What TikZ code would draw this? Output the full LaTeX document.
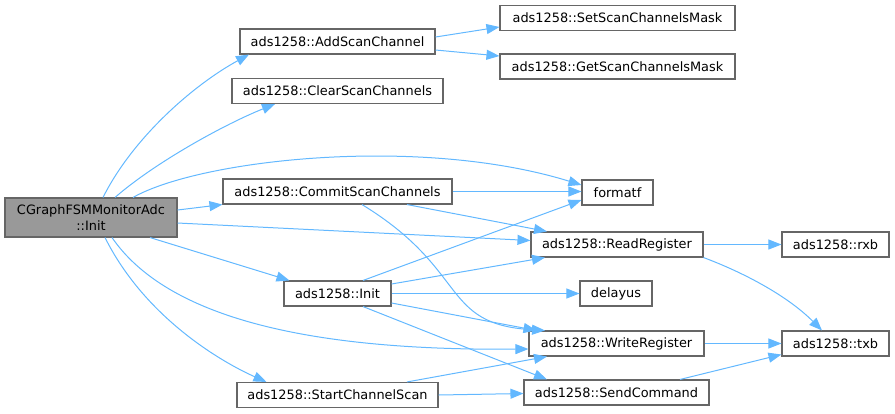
\documentclass[tikz,border=0pt]{standalone}
\usepackage{fontspec}
\setmainfont{DejaVu Sans}
\usetikzlibrary{arrows.meta}
\definecolor{edgeblue}{HTML}{63B8FF}
\definecolor{boxborder}{HTML}{666666}
\definecolor{mainfill}{HTML}{999999}
\begin{document}
\begin{tikzpicture}[x=1bp,y=-1bp,
  fn/.style={draw=boxborder, line width=1.1bp, fill=white, minimum height=25bp,
    inner sep=0pt, font=\fontsize{12.9bp}{16bp}\selectfont, text=black},
  mainfn/.style={fn, fill=mainfill, minimum height=39bp, align=center},
  call/.style={draw=edgeblue, line width=1bp, -{Triangle[length=13bp,width=10bp,fill=edgeblue]}}]
\useasboundingbox (0,0) rectangle (895,413);
% nodes
\node[mainfn, minimum width=172bp] (main) at (91,217.5) {CGraphFSMMonitorAdc\\::Init};
\node[fn, minimum width=195bp] (add) at (337.5,41.5) {ads1258::AddScanChannel};
\node[fn, minimum width=211bp] (clear) at (337.5,91) {ads1258::ClearScanChannels};
\node[fn, minimum width=235bp] (set) at (617.5,18) {ads1258::SetScanChannelsMask};
\node[fn, minimum width=235bp] (get) at (617.5,66.5) {ads1258::GetScanChannelsMask};
\node[fn, minimum width=229bp] (commit) at (337.5,191.5) {ads1258::CommitScanChannels};
\node[fn, minimum width=71bp] (formatf) at (617.5,192.5) {formatf};
\node[fn, minimum width=172bp] (read) at (617,244.5) {ads1258::ReadRegister};
\node[fn, minimum width=107bp] (rxb) at (835.5,244.5) {ads1258::rxb};
\node[fn, minimum width=107bp] (init) at (337.5,293.5) {ads1258::Init};
\node[fn, minimum width=72bp] (delayus) at (616,293.5) {delayus};
\node[fn, minimum width=175bp] (write) at (616.5,343.5) {ads1258::WriteRegister};
\node[fn, minimum width=107bp] (txb) at (835.5,343.5) {ads1258::txb};
\node[fn, minimum width=185bp] (send) at (616.5,392.5) {ads1258::SendCommand};
\node[fn, minimum width=201bp] (start) at (337.5,395) {ads1258::StartChannelScan};
% edges from main
\draw[call] ([xshift=12bp]main.north) .. controls +(30,-60) and +(-55,30) .. ([xshift=-88.5bp]add.south);
\draw[call] ([xshift=24bp]main.north) .. controls +(40,-35) and +(-50,20) .. ([xshift=-62.5bp]clear.south);
\draw[call] ([xshift=42bp]main.north) .. controls +(67,-38) and +(-162,-50) .. ([yshift=7.5bp]formatf.west);
\draw[call] ([yshift=7.5bp]main.east) -- (commit.south west);
\draw[call] ([yshift=-5.5bp]main.east) -- ([yshift=4bp]read.west);
\draw[call] ([xshift=59bp]main.south) -- ([xshift=6bp]init.north west);
\draw[call] ([xshift=21bp]main.south) .. controls +(55,80) and +(-220,2) .. ([yshift=-5.5bp]write.west);
\draw[call] ([xshift=14bp]main.south) .. controls +(40,80) and +(-45,-20) .. ([xshift=30bp]start.north west);
% add
\draw[call] ([yshift=4.5bp]add.east) -- ([yshift=-9bp]set.west);
\draw[call] ([yshift=-8.5bp]add.east) -- ([yshift=10.5bp]get.west);
% commit
\draw[call] (commit.east) -- (commit.east -| formatf.west);
\draw[call] ([xshift=69.5bp]commit.south) -- ([xshift=-70bp]read.north);
\draw[call] ([xshift=24.5bp]commit.south) .. controls +(108,66) and +(-105,-6) .. ([xshift=-71.5bp]write.north);
% init
\draw[call] ([xshift=25.5bp]init.north) -- ([yshift=-7.5bp]formatf.west);
\draw[call] ([yshift=9.5bp]init.east) -- ([xshift=-72bp]read.south);
\draw[call] (init.east) -- (delayus.west);
\draw[call] ([yshift=-9.5bp]init.east) -- ([xshift=-80bp]write.north);
\draw[call] ([xshift=25.5bp]init.south) -- ([xshift=-69.5bp]send.north);
% start
\draw[call] ([xshift=69.5bp]start.north) -- ([xshift=-69.5bp]write.south);
\draw[call] (start.east) -- ([yshift=-1bp]send.west);
% read, write, send
\draw[call] (read.east) -- (rxb.west);
\draw[call] (read.south east) .. controls +(40,15) and +(-35,-35) .. ([xshift=-13.5bp]txb.north);
\draw[call] (write.east) -- (txb.west);
\draw[call] ([xshift=63.5bp]send.north) -- ([yshift=-11bp]txb.west);
\end{tikzpicture}
\end{document}
